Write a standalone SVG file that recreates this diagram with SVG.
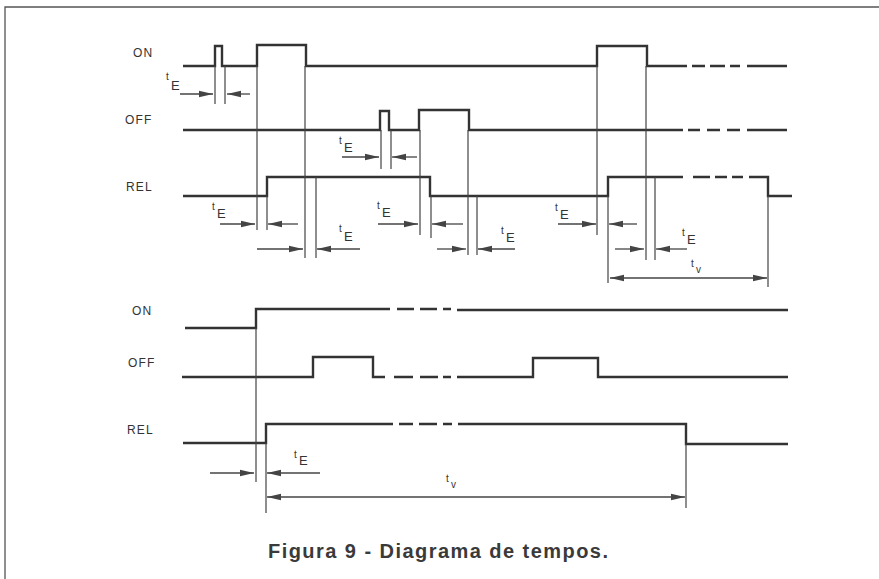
<svg xmlns="http://www.w3.org/2000/svg" width="879" height="579" viewBox="0 0 879 579">
<defs>
<style>
.sig{fill:none;stroke:#333;stroke-width:2.4;stroke-linejoin:miter}
.thin{fill:none;stroke:#444;stroke-width:1.2}
.arr{fill:none;stroke:#444;stroke-width:1.3;marker-end:url(#ah)}
.darr{fill:none;stroke:#444;stroke-width:1.3;marker-end:url(#ah);marker-start:url(#ah)}
.lbl{font-family:"Liberation Sans",Arial,sans-serif;font-size:12px;letter-spacing:1.2px;fill:#333}
.ts{font-family:"Liberation Sans",Arial,sans-serif;font-size:10px;fill:#333}
.te{font-family:"Liberation Sans",Arial,sans-serif;font-size:13px;fill:#333}
.cap{font-family:"Liberation Sans",Arial,sans-serif;font-size:20px;font-weight:bold;fill:#3a3a3a}
</style>
<marker id="ah" markerUnits="userSpaceOnUse" markerWidth="16" markerHeight="9" refX="14" refY="4" orient="auto-start-reverse">
<path d="M0,0.8 L14,4 L0,7.2 z" fill="#444"/>
</marker>
</defs>
<rect width="879" height="579" fill="#fff"/>
<path d="M5,579 V7 H879" fill="none" stroke="#555" stroke-width="1.3"/>

<g id="top-on">
<text class="lbl" x="133" y="57">ON</text>
<path class="sig" d="M183,66 H215 V46 H222 V66 H257 V45 H306 V66 H597 V46 H647 V66 H687 M692,66 H705 M710,66 H725 M730,66 H740 M747,66 H787"/>
</g>
<g id="top-off">
<text class="lbl" x="125" y="124">OFF</text>
<path class="sig" d="M183,130 H380 V111 H389 V130 H419 V110 H469 V130 H683 M688,130 H700 M707,130 H720 M727,130 H740 M747,130 H787"/>
</g>
<g id="top-rel">
<text class="lbl" x="126" y="191">REL</text>
<path class="sig" d="M183,196 H267 V177 H430 V196 H608 V177 H683 M693,177 H710 M715,177 H727 M732,177 H743 M749,177 H768 V196 H792"/>
</g>

<g id="bot-on">
<text class="lbl" x="132" y="315">ON</text>
<path class="sig" d="M185,328 H256 V309 H390 M397,309 H414 M420,309 H437 M443,309 H451 M457,310 H788"/>
</g>
<g id="bot-off">
<text class="lbl" x="128" y="367">OFF</text>
<path class="sig" d="M182,377 H313 V357 H373 V377 H385 M394,377 H413 M420,377 H438 M443,377 H451 M457,377 H533 V358 H598 V377 H788"/>
</g>
<g id="bot-rel">
<text class="lbl" x="127" y="434">REL</text>
<path class="sig" d="M183,443 H266 V424 H393 M399,424 H413 M419,424 H437 M443,424 H452 M458,424 H686 V444 H788"/>
</g>

<g id="connectors">
<path class="thin" d="M215,66 V104 M225,66 V104 M257,66 V230 M267,196 V230 M305,66 V258 M316,177 V258 M381,130 V169 M391,130 V169 M420,130 V235 M431,196 V238 M468,130 V255 M477,196 V255 M597,66 V235 M608,196 V283 M646,66 V260 M655,177 V260 M768,196 V287"/>
<path class="arr" d="M180,94 H213"/>
<path class="arr" d="M250,94 H227"/>
<path class="arr" d="M342,157 H379"/>
<path class="arr" d="M417,157 H392"/>
<path class="arr" d="M220,224 H255"/>
<path class="arr" d="M298,224 H268"/>
<path class="arr" d="M378,224 H418"/>
<path class="arr" d="M463,224 H432"/>
<path class="arr" d="M558,224 H596"/>
<path class="arr" d="M637,224 H609"/>
<path class="arr" d="M257,249 H303"/>
<path class="arr" d="M360,249 H317"/>
<path class="arr" d="M437,249 H466"/>
<path class="arr" d="M515,249 H478"/>
<path class="arr" d="M615,249 H644"/>
<path class="arr" d="M687,249 H656"/>
<path class="darr" d="M610,278 H767"/>
<path class="thin" d="M256,328 V482 M266,443 V513 M686,444 V508"/>
<path class="arr" d="M210,473 H254"/>
<path class="arr" d="M320,473 H267"/>
<path class="darr" d="M267,497 H685"/>
</g>

<g id="labels">
<text class="ts" x="166" y="80">t</text><text class="te" x="171" y="90">E</text>
<text class="ts" x="339" y="144">t</text><text class="te" x="344" y="152">E</text>
<text class="ts" x="212" y="210">t</text><text class="te" x="217" y="218">E</text>
<text class="ts" x="377" y="209">t</text><text class="te" x="382" y="217">E</text>
<text class="ts" x="555" y="211">t</text><text class="te" x="560" y="219">E</text>
<text class="ts" x="339" y="232">t</text><text class="te" x="344" y="241">E</text>
<text class="ts" x="501" y="234">t</text><text class="te" x="506" y="242">E</text>
<text class="ts" x="682" y="236">t</text><text class="te" x="687" y="244">E</text>
<text class="ts" x="691" y="267">t</text><text class="ts" x="696" y="273">v</text>
<text class="ts" x="294" y="458">t</text><text class="te" x="299" y="465">E</text>
<text class="ts" x="446" y="482">t</text><text class="ts" x="451" y="488">v</text>
</g>

<text class="cap" x="268" y="558" textLength="340" lengthAdjust="spacing">Figura 9 - Diagrama de tempos.</text>
</svg>
